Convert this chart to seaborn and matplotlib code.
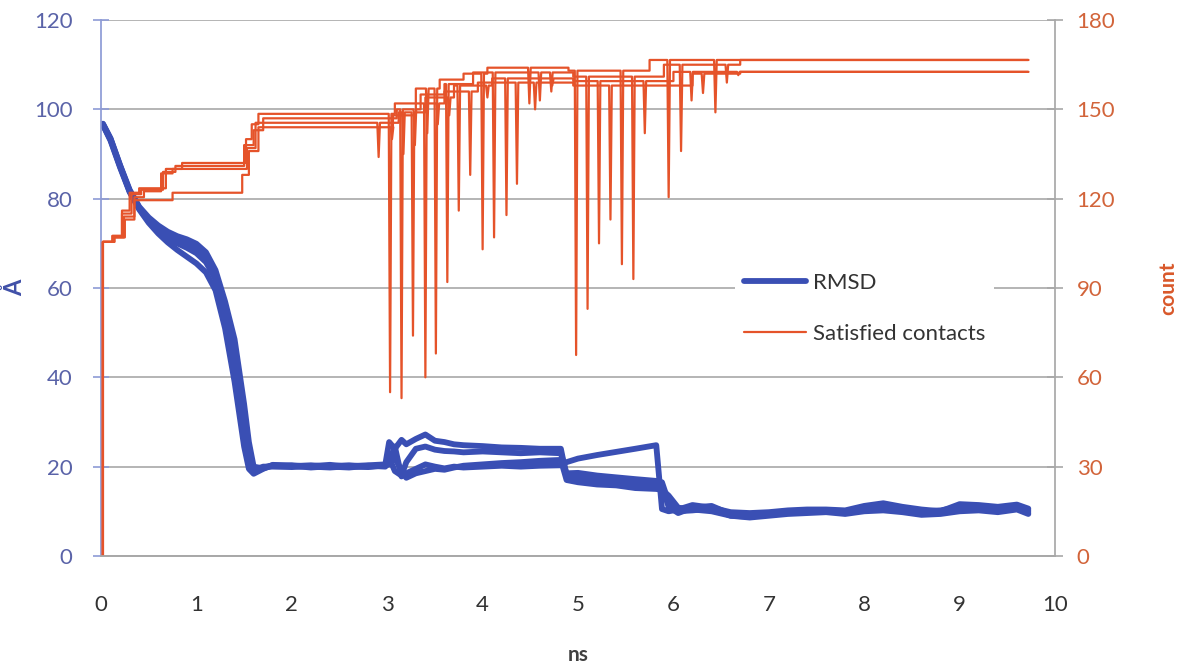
import matplotlib
matplotlib.use("Agg")
import matplotlib.pyplot as plt
import seaborn as sns

# ---- RMSD (left axis, Å), four runs on a shared time grid (ns) ----
t_rmsd = [0.02, 0.1, 0.2, 0.3, 0.4, 0.5, 0.6, 0.7, 0.8, 0.9,
          1.0, 1.1, 1.2, 1.3, 1.4, 1.5, 1.55, 1.6, 1.7, 1.8,
          2.0, 2.2, 2.4, 2.6, 2.8, 2.98,
          3.02, 3.08, 3.15, 3.2, 3.3, 3.4, 3.5, 3.6, 3.7, 3.8,
          4.0, 4.2, 4.4, 4.6, 4.82,
          4.88, 5.0, 5.2, 5.4, 5.6, 5.82, 5.88, 5.95, 6.05,
          6.2, 6.4, 6.6, 6.8, 7.0, 7.2, 7.4, 7.6, 7.8, 8.0,
          8.2, 8.4, 8.6, 8.8, 9.0, 9.2, 9.4, 9.6, 9.72]

rmsd_run1 = [96.8, 93.5, 87.5, 82.0, 78.2, 75.8, 74.0, 72.6, 71.6, 70.9,
             69.9, 68.0, 64.0, 57.0, 48.5, 34.0, 25.5, 20.0, 19.6, 20.2,
             20.3, 20.0, 19.8, 20.1, 20.3, 20.5,
             25.5, 24.0, 26.0, 25.0, 26.2, 27.2, 25.8, 25.5, 25.0, 24.8,
             24.6, 24.3, 24.2, 24.0, 24.0,
             17.8, 17.5, 17.0, 16.8, 16.2, 16.0, 15.5, 11.0, 9.6,
             10.8, 11.2, 9.4, 9.2, 9.6, 10.0, 10.2, 10.0, 9.6, 10.8,
             11.2, 10.5, 10.0, 10.2, 11.0, 11.2, 10.6, 11.2, 10.2]
rmsd_run2 = [96.5, 93.0, 87.0, 81.5, 77.8, 75.0, 73.0, 71.2, 70.0, 69.0,
             67.8, 65.8, 62.0, 55.0, 45.0, 30.0, 22.0, 18.8, 19.8, 20.3,
             20.1, 20.3, 20.0, 19.8, 20.2, 20.0,
             22.0, 19.0, 18.0, 21.0, 24.0, 24.5, 23.8, 23.5, 23.4, 23.2,
             23.4, 23.2, 23.0, 23.2, 23.0,
             18.5, 18.6, 18.0, 17.6, 17.2, 16.8, 16.5, 12.0, 10.0,
             10.2, 10.6, 9.0, 8.8, 9.2, 9.8, 10.0, 10.2, 9.8, 10.4,
             10.6, 10.2, 9.6, 9.8, 10.5, 10.6, 10.2, 10.8, 9.8]
rmsd_run3 = [96.6, 93.2, 87.2, 81.8, 78.0, 75.3, 73.4, 71.8, 70.7, 69.8,
             68.6, 66.6, 62.8, 56.0, 46.5, 32.0, 23.5, 19.2, 20.0, 20.0,
             19.9, 20.1, 20.4, 20.0, 19.9, 20.3,
             21.0, 24.5, 17.8, 18.5, 19.5, 20.5, 20.0, 19.6, 20.0, 19.8,
             20.0, 20.2, 20.0, 20.2, 20.3,
             21.0, 21.8, 22.6, 23.3, 24.0, 24.8, 10.5, 10.0, 10.4,
             11.4, 10.8, 9.8, 9.6, 9.8, 10.2, 10.4, 10.4, 10.2, 11.2,
             11.8, 11.0, 10.4, 10.0, 11.6, 11.4, 11.0, 11.5, 10.6]
rmsd_run4 = [96.7, 93.4, 87.4, 81.6, 77.6, 74.6, 72.2, 70.2, 68.5, 67.0,
             65.5, 63.5, 59.5, 51.0, 39.0, 24.5, 19.5, 18.4, 19.5, 20.4,
             20.2, 19.8, 20.1, 20.3, 20.0, 20.2,
             20.5, 22.0, 19.0, 17.5, 18.5, 19.0, 19.5, 19.3, 19.8, 20.2,
             20.5, 20.8, 21.0, 21.3, 21.5,
             17.0, 16.5, 16.0, 15.8, 15.2, 15.0, 14.8, 13.5, 10.8,
             10.4, 10.0, 9.0, 8.6, 9.0, 9.4, 9.6, 9.8, 9.4, 10.0,
             10.2, 9.8, 9.2, 9.4, 10.0, 10.2, 9.8, 10.4, 9.4]

# ---- Satisfied contacts (right axis, count): step levels + short dips ----
t_end = 9.72
contacts_steps = [
    [(0.02, 0), (0.02, 105.5), (0.12, 107.5), (0.22, 116), (0.30, 122), (0.40, 123.5),
     (0.68, 130), (0.85, 132), (1.52, 140), (1.58, 145), (1.65, 148.5), (3.08, 152),
     (3.30, 157), (3.55, 160), (3.80, 162), (4.05, 164), (4.90, 163), (5.75, 166.6)],
    [(0.02, 0), (0.02, 105.5), (0.12, 107.5), (0.22, 115), (0.32, 121.5), (0.42, 123),
     (0.65, 129), (0.78, 131), (1.50, 138), (1.60, 143), (1.70, 147), (3.10, 150),
     (3.35, 155), (3.60, 158.5), (3.90, 162.4), (4.95, 161), (5.90, 165), (6.70, 166.6)],
    [(0.02, 0), (0.02, 105.5), (0.14, 107), (0.24, 114), (0.35, 120.5), (0.45, 122.5),
     (0.63, 128.5), (0.75, 130), (1.53, 137), (1.62, 145.5), (3.12, 149), (3.40, 154),
     (3.70, 158), (4.10, 160.4), (4.95, 159.5), (6.00, 162.6)],
    [(0.02, 0), (0.02, 105.5), (0.14, 107), (0.25, 113), (0.35, 119.5), (0.75, 122),
     (1.48, 128), (1.55, 136), (1.65, 144), (3.06, 148), (3.30, 152), (3.60, 156),
     (3.95, 159), (4.95, 158), (6.20, 162), (6.70, 162.6)],
]
contacts_dips = [
    [(3.03, 55), (3.42, 142), (3.51, 68), (4.00, 103), (4.49, 152), (4.98, 67.5),
     (5.46, 98), (5.95, 120.5), (6.44, 149)],
    [(3.15, 53), (3.29, 138), (3.63, 92), (4.12, 107), (4.60, 153), (4.72, 156),
     (5.10, 83), (5.58, 93), (6.08, 136), (6.56, 159)],
    [(2.91, 134), (3.17, 135), (3.27, 74), (3.65, 148), (3.75, 116), (4.05, 154),
     (4.25, 114.5), (4.73, 158), (5.22, 105), (5.70, 142), (6.19, 153), (6.68, 161.5)],
    [(3.05, 140), (3.40, 60), (3.53, 145), (3.87, 128), (4.36, 125), (4.55, 150),
     (5.34, 113), (6.31, 155.5)],
]

BLUE = "#3A4FB4"
ORANGE = "#E5532A"


def contact_trace(steps, dips, half=0.014):
    # turn level changes and dips into a polyline
    events = sorted([(t, 0, v) for t, v in steps[1:]] + [(t, 1, v) for t, v in dips])
    xs, ys = [steps[0][0]], [steps[0][1]]
    level = steps[0][1]
    for t, kind, v in events:
        if kind == 0:
            xs += [t, t]
            ys += [level, v]
            level = v
        else:
            xs += [t - half, t, t + half]
            ys += [level, v, level]
    xs.append(t_end)
    ys.append(level)
    return xs, ys


sns.set_theme(style="white")
plt.rcParams['font.family'] = ['Lato', 'DejaVu Sans']

fig = plt.figure(figsize=(11.8, 6.69), dpi=100)
ax1 = fig.add_axes([0.0856, 0.169, 0.8085, 0.801])
ax2 = ax1.twinx()

for run in [rmsd_run1, rmsd_run2, rmsd_run3, rmsd_run4]:
    sns.lineplot(x=t_rmsd, y=run, ax=ax1, color=BLUE, linewidth=4.2,
                 estimator=None, sort=False, legend=False)

for steps, dips in zip(contacts_steps, contacts_dips):
    xs, ys = contact_trace(steps, dips)
    sns.lineplot(x=xs, y=ys, ax=ax2, color=ORANGE, linewidth=1.6,
                 estimator=None, sort=False, legend=False)

ax1.set_xlim(0, 10)
ax1.set_ylim(0, 120)
ax2.set_ylim(0, 180)
ax1.set_xticks(range(0, 11))
ax1.set_yticks(range(0, 121, 20))
ax2.set_yticks(range(0, 181, 30))

ax1.yaxis.grid(True, color="#A8A8A8", linewidth=1.2)
ax1.set_axisbelow(True)

for a in (ax1, ax2):
    a.spines["top"].set_visible(False)
    a.spines["bottom"].set_color("#A8A8A8")
ax1.spines["left"].set_color("#8E9BD6")
ax1.spines["right"].set_visible(False)
ax2.spines["left"].set_visible(False)
ax2.spines["right"].set_color("#A8A8A8")

ax1.tick_params(axis="x", bottom=False, labelsize=16, labelcolor="#333333", pad=22)
ax1.tick_params(axis="y", left=True, direction="inout", length=11, width=1.2,
                color="#8E9BD6", labelsize=16, labelcolor="#5A63A8", pad=15)
ax2.tick_params(axis="y", right=True, direction="inout", length=11, width=1.2,
                color="#A8A8A8", labelsize=16, labelcolor="#D2643A", pad=10)

ax1.set_xlabel("ns", fontsize=15, fontweight="bold", color="#404040", labelpad=22)
ax1.set_ylabel("Å", fontsize=17, fontweight="bold", color="#4050A8")
ax1.yaxis.set_label_coords(-0.078, 0.5)
ax2.set_ylabel("count", fontsize=15, fontweight="bold", color="#D9582A", labelpad=31)

handles = [ax1.lines[0], ax2.lines[0]]
leg = ax2.legend(handles, ["RMSD", "Satisfied contacts"], loc="center left",
                 bbox_to_anchor=(0.653, 0.462), frameon=True, facecolor="white",
                 edgecolor="none", framealpha=1, fontsize=16, handlelength=2.8,
                 handletextpad=0.3, labelspacing=1.4)
for txt in leg.get_texts():
    txt.set_color("#333333")

fig.savefig("out.png", dpi=100)
